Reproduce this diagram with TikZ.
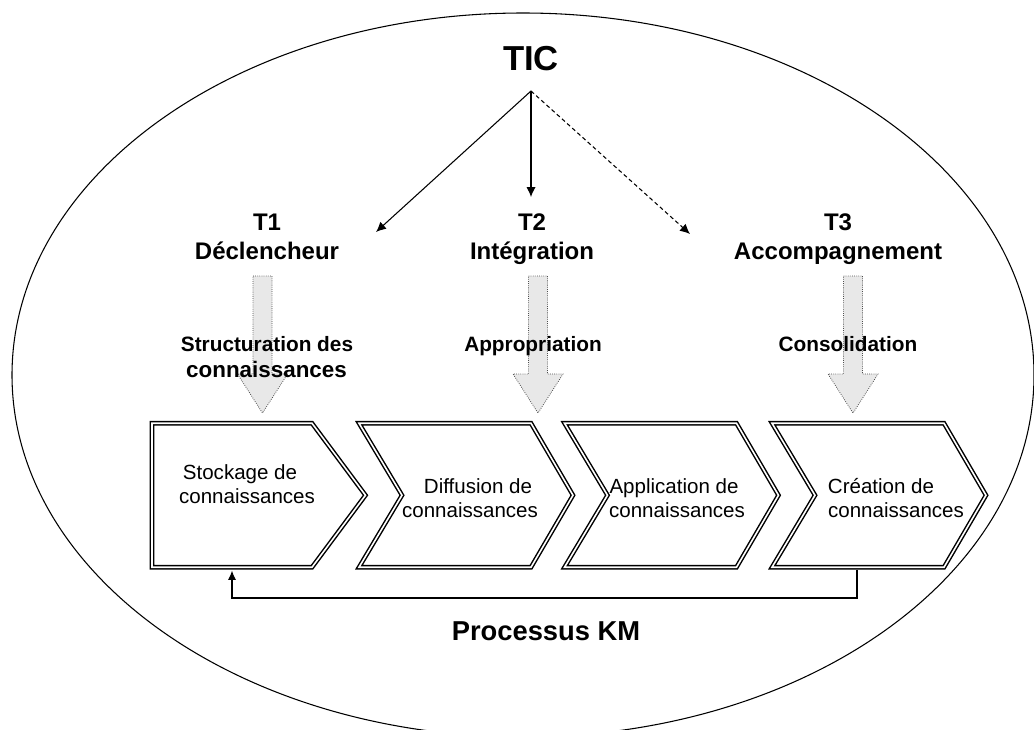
\documentclass[tikz,border=0pt]{standalone}
\usepackage{fontspec}
\setmainfont{Liberation Sans}
\usetikzlibrary{arrows.meta}
\begin{document}
\begin{tikzpicture}[x=0.75pt,y=-0.75pt,
  ticlab/.style={font=\bfseries\fontsize{26pt}{30pt}\selectfont, anchor=base, inner sep=0pt},
  tlab/.style={font=\bfseries\fontsize{18pt}{21pt}\selectfont, anchor=base, inner sep=0pt},
  alab/.style={font=\bfseries\fontsize{15.6pt}{18pt}\selectfont, anchor=base, inner sep=0pt},
  clab/.style={font=\fontsize{15.4pt}{18pt}\selectfont, anchor=base, inner sep=0pt},
  klab/.style={font=\bfseries\fontsize{20.5pt}{24pt}\selectfont, anchor=base, inner sep=0pt},
  chev/.style={draw=black, line width=1.1pt, double=white, double distance=1.2pt, line join=miter},
  blk/.style={fill=gray!18, draw=gray!60!black, densely dotted, line width=0.6pt},
  ticarr/.style={line width=0.8pt, -{Latex[length=7.5pt,width=7pt]}},
  fbarr/.style={line width=0.8pt, -{Latex[length=7pt,width=6pt]}},
]
\useasboundingbox (0,0) rectangle (1034,729);
\clip (0,0) rectangle (1034,729);
% outer ellipse
\draw[line width=0.8pt] (523,375) ellipse [x radius=511, y radius=362];

% block arrows
\foreach \c in {262.5,538,853}
  \draw[blk] (\c-9.5,276) -- (\c+9.5,276) -- (\c+9.5,374) -- (\c+25,374)
    -- (\c,413) -- (\c-25,374) -- (\c-9.5,374) -- cycle;

% chevrons
\draw[chev] (152,423.25) -- (312,423.25) -- (365.5,495.25) -- (312,567.25) -- (152,567.25) -- cycle;
\foreach \X in {359,564.5,772}
  \draw[chev] (\X,423.25) -- (\X+172,423.25) -- (\X+214,495.25) -- (\X+172,567.25)
    -- (\X,567.25) -- (\X+43,495.25) -- cycle;

% labels
\node[ticlab] (tic) at (531,70) {TIC};
\node[tlab] (t1a) at (267,230) {T1};
\node[tlab] (t1b) at (267,259) {Déclencheur};
\node[tlab] (t2a) at (532,230) {T2};
\node[tlab] (t2b) at (532,259) {Intégration};
\node[tlab] (t3a) at (838,230) {T3};
\node[tlab] (t3b) at (838,259) {Accompagnement};

\node[alab] (s1a) at (267,351) {Structuration des};
\node[alab, font=\bfseries\fontsize{16.8pt}{19pt}\selectfont] (s1b) at (266.5,377) {connaissances};
\node[alab] (s2) at (533,351) {Appropriation};
\node[alab] (s3) at (848,351) {Consolidation};

\node[clab] (c1a) at (240,479) {Stockage de};
\node[clab] (c1b) at (247,503) {connaissances};
\node[clab] (c2a) at (478,493) {Diffusion de};
\node[clab] (c2b) at (470,517) {connaissances};
\node[clab] (c3a) at (674,493) {Application de};
\node[clab] (c3b) at (677,517) {connaissances};
\node[clab] (c4a) at (881,493) {Création de};
\node[clab] (c4b) at (896,517) {connaissances};

\node[klab] (km) at (546,640) {Processus KM};

% TIC arrows
\coordinate (o) at (531,91);
\coordinate (p1) at (376,232);
\coordinate (p2) at (531,197);
\coordinate (p3) at (690,234);
\draw[ticarr] (o) -- (p1);
\draw[ticarr] (o) -- (p2);
\draw[ticarr, dash pattern=on 3pt off 2.2pt] (o) -- (p3);

% feedback loop
\coordinate (fbs) at (857,569.5);
\coordinate (fbe) at (232,570.5);
\draw[fbarr] (fbs) -- ++(0,28.5) -| (fbe);
\end{tikzpicture}
\end{document}
